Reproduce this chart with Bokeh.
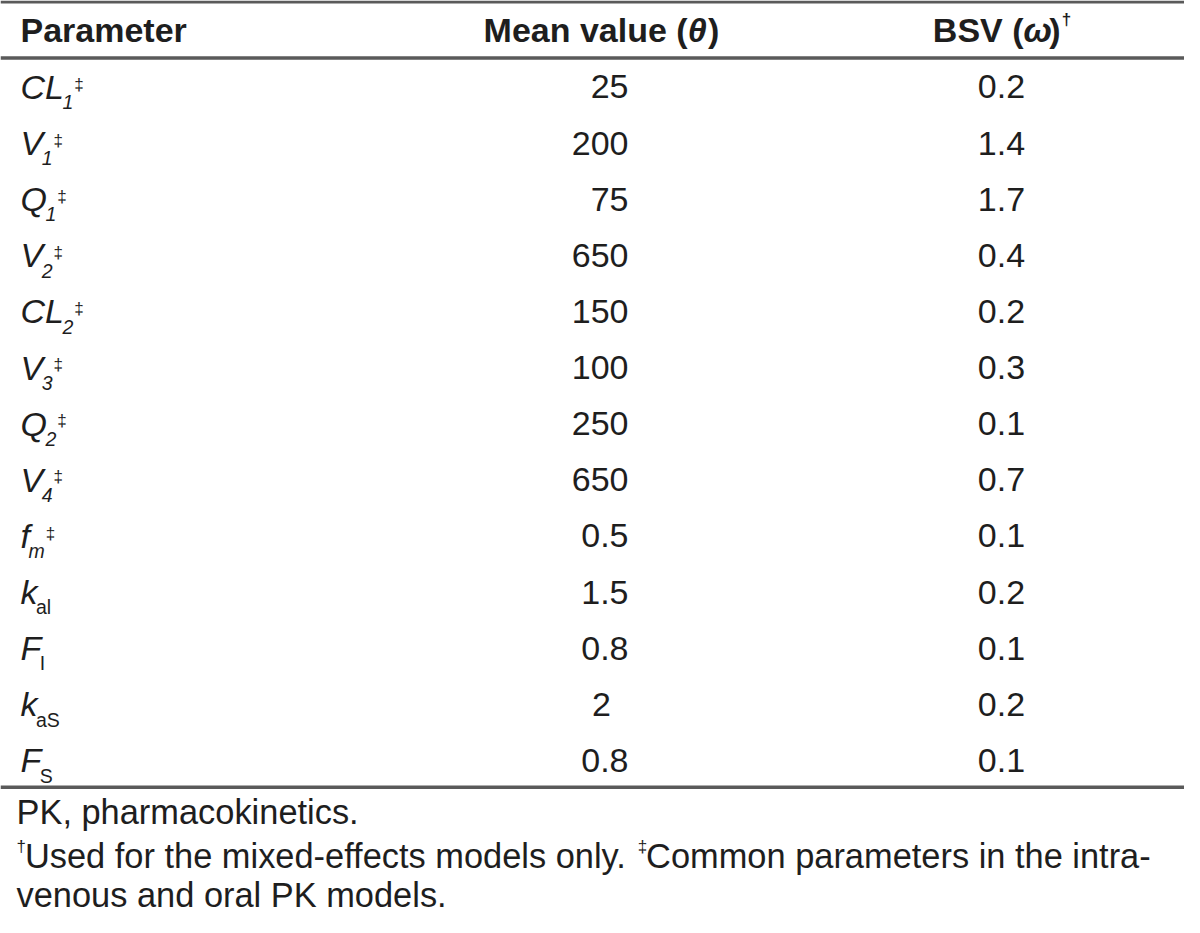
from bokeh.plotting import figure
from bokeh.models import Range1d
from bokeh.core.properties import value
from bokeh.embed import file_html
from bokeh.resources import INLINE

# ---------------- data ----------------
headers = ["Parameter", "Mean value (", "\u03b8", ")", "BSV (", "\u03c9", ")", "\u2020"]
param_main = ["CL", "V", "Q", "V", "CL", "V", "Q", "V", "f", "k", "F", "k", "F"]
param_sub = ["1", "1", "1", "2", "2", "3", "2", "4", "m", "al", "I", "aS", "S"]
param_common = [True, True, True, True, True, True, True, True, True, False, False, False, False]
mean_values = ["25", "200", "75", "650", "150", "100", "250", "650", "0.5", "1.5", "0.8", "2", "0.8"]
bsv_values = ["0.2", "1.4", "1.7", "0.4", "0.2", "0.3", "0.1", "0.7", "0.1", "0.2", "0.1", "0.2", "0.1"]
footer_1 = "PK, pharmacokinetics."
footer_2a = "Used for the mixed-effects models only."
footer_2b = "Common parameters in the intra-"
footer_3 = "venous and oral PK models."

# ---------------- helpers ----------------
REG = dict(zip("abcdefghijklmnopqrstuvwxyz",
               [556, 556, 500, 556, 556, 278, 556, 556, 222, 222, 500, 222, 833, 556, 556, 556, 556, 333, 500, 278, 556, 500, 722, 500, 500, 500]))
REG.update(dict(zip("ABCDEFGHIJKLMNOPQRSTUVWXYZ",
                    [667, 667, 722, 722, 667, 611, 778, 722, 278, 500, 667, 556, 833, 722, 778, 667, 778, 722, 667, 611, 722, 667, 944, 667, 667, 611])))
REG.update({" ": 278, ",": 278, ".": 278, "-": 333, "(": 333, ")": 333, "\u2020": 556, "\u2021": 556,
            "\u03b8": 556, "\u03c9": 740})
for d in "0123456789":
    REG[d] = 556
BOLD = dict(REG)
BOLD.update(dict(zip("abcdefghijklmnopqrstuvwxyz",
                     [556, 611, 556, 611, 556, 333, 611, 611, 278, 278, 556, 278, 889, 611, 611, 611, 611, 389, 556, 333, 611, 556, 778, 556, 556, 500])))
BOLD.update({"A": 722, "B": 722, "S": 667, "V": 667, "M": 833, "P": 667, "\u03b8": 600, "\u03c9": 760})


def tw(s, size, bold=False):
    t = BOLD if bold else REG
    return sum(t.get(c, 556) for c in s) / 1000.0 * size


FONT = value("Liberation Sans")
INK = "#1e1e1e"


def fpx(size):
    return value(f"{size:.1f}px")


# x in reference pixels (unscaled), y in reference pixels squeezed into the 917px plot height
p = figure(width=1184, height=917, output_backend="svg", toolbar_location=None,
           x_range=Range1d(0, 1184), y_range=Range1d(933, 0),
           min_border=0, x_axis_location=None, y_axis_location=None)
p.grid.visible = False
p.outline_line_color = None
p.background_fill_color = "white"
p.border_fill_color = "white"


def txt(x, y, s, size, style="normal", align="left"):
    p.text(x=[x], y=[y], text=[s], text_font=FONT, text_font_size=fpx(size),
           text_font_style=style, text_align=align, text_baseline="middle", text_color=INK)


BIG = 34
SUB = 19.5
SUP = 17

# ---------------- rules ----------------
for yy, lw in [(1.5, 3), (58.5, 3.5), (800.5, 3.5)]:
    p.line(x=[0, 1184], y=[yy, yy], line_color="#5a5a5a", line_width=lw)

# ---------------- header ----------------
HC = 30.5
txt(20, HC, headers[0], BIG, "bold")
col_mean, col_bsv = 601, 1001
w1 = tw(headers[1], BIG, True); w2 = tw(headers[2], BIG, True); w3 = tw(headers[3], BIG, True)
x0 = col_mean - (w1 + w2 + w3) / 2
txt(x0, HC, headers[1], BIG, "bold")
txt(x0 + w1, HC, headers[2], BIG, "bold italic")
txt(x0 + w1 + w2, HC, headers[3], BIG, "bold")
w4 = tw(headers[4], BIG, True); w5 = tw(headers[5], BIG, True); w6 = tw(headers[6], BIG, True); w7 = tw(headers[7], SUP, True)
x0 = col_bsv - (w4 + w5 + w6 + w7) / 2
txt(x0, HC, headers[4], BIG, "bold")
txt(x0 + w4, HC, headers[5], BIG, "bold italic")
txt(x0 + w4 + w5, HC, headers[6], BIG, "bold")
txt(x0 + w4 + w5 + w6 + 1, HC - 11, headers[7], SUP, "bold")

# ---------------- rows ----------------
ROW0, PITCH = 88, 57.1
upright = {"al", "I", "aS", "S"}
for i in range(len(param_main)):
    yc = ROW0 + PITCH * i
    mx = 20
    txt(mx, yc, param_main[i], BIG, "italic")
    sx = mx + tw(param_main[i], BIG) - 1.5
    sub = param_sub[i]
    txt(sx, yc + 15.5, sub, SUB, "normal" if sub in upright else "italic")
    if param_common[i]:
        txt(sx + tw(sub, SUB) + 1, yc - 3, "\u2021", SUP)
    mv = mean_values[i]
    if len(mv) >= 2:
        txt(628, yc, mv, BIG, align="right")
    else:
        txt(col_mean, yc, mv, BIG, align="center")
    txt(col_bsv, yc, bsv_values[i], BIG, align="center")

# ---------------- footer ----------------
FB = 34.4
txt(16, 826, footer_1, FB)
txt(16, 861, "\u2020", SUP)
fx = 16 + tw("\u2020", SUP) - 1
txt(fx, 870, footer_2a, FB)
fx2 = fx + tw(footer_2a + " ", FB) - 1
txt(fx2, 861, "\u2021", SUP)
txt(fx2 + tw("\u2021", SUP) - 1, 870, footer_2b, FB)
txt(16, 910, footer_3, FB)

open("out.html", "w").write(file_html(p, INLINE))
